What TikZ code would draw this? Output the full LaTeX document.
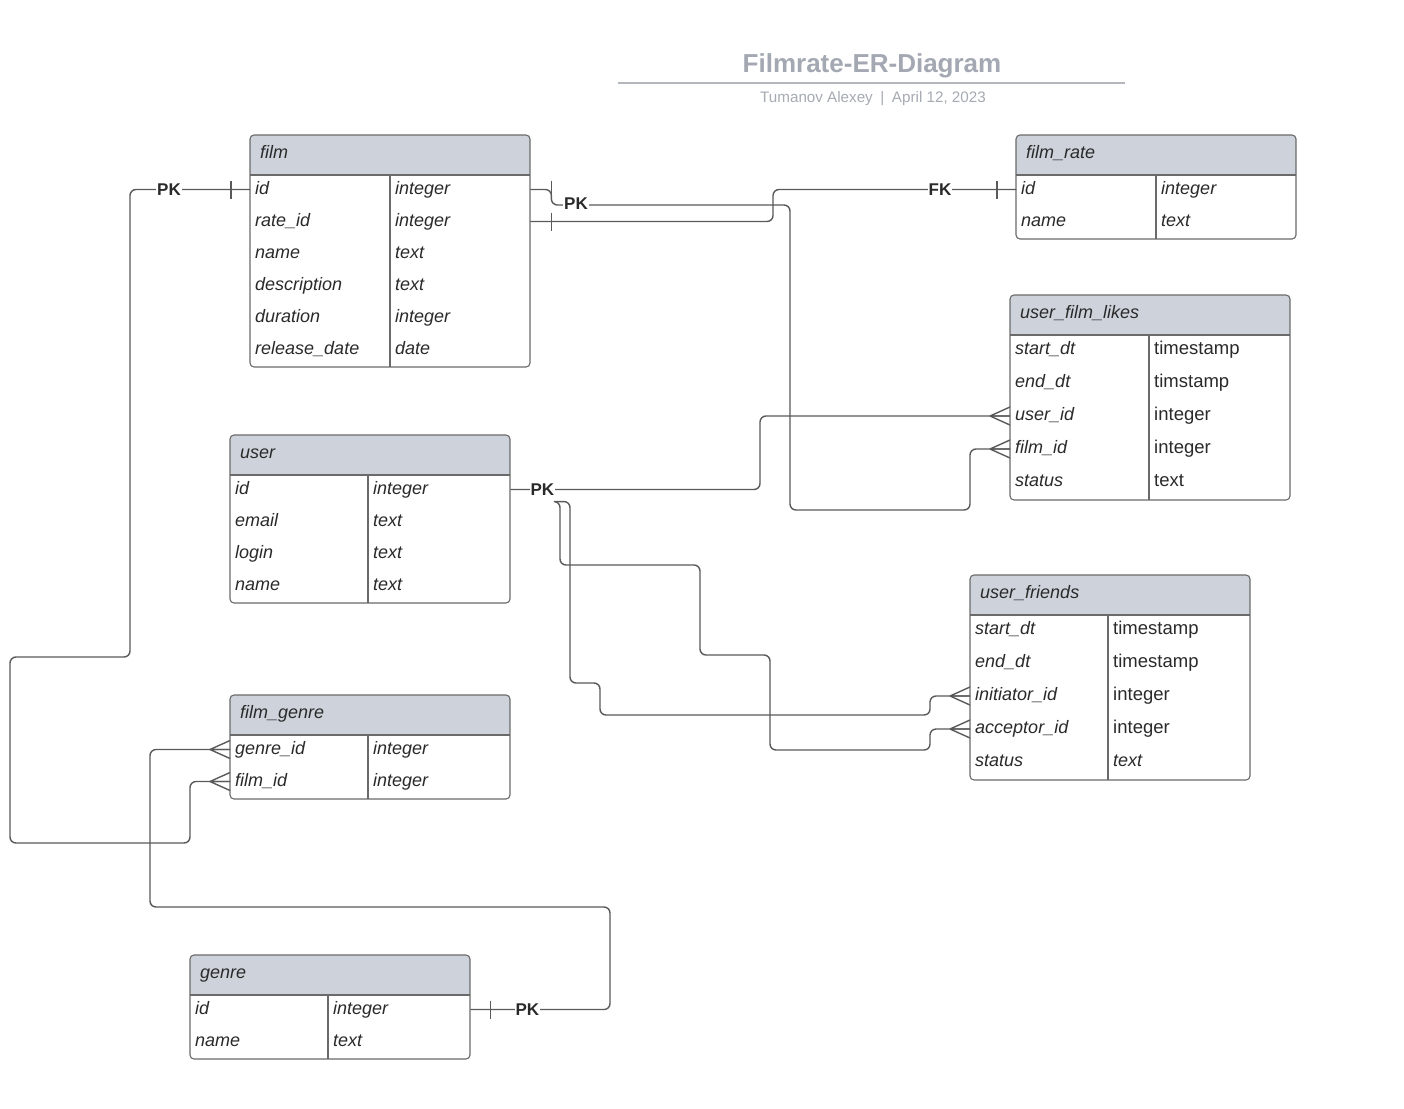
\documentclass[tikz,border=0pt]{standalone}
\usepackage{fontspec}
\setmainfont{Liberation Sans}
\usetikzlibrary{calc}
\definecolor{hdrgray}{HTML}{CED3DB}
\definecolor{linegray}{HTML}{5A5A5A}
\definecolor{boxline}{HTML}{6A6A6A}
\definecolor{titlegray}{HTML}{A3A8B2}
\definecolor{subgray}{HTML}{A6AAB2}
\definecolor{ruleline}{HTML}{B4B8BE}
\definecolor{txt}{HTML}{2A2A2A}
\tikzset{
  conn/.style={draw=linegray, line width=1.4pt, rounded corners=6pt},
  fld/.style={anchor=west, inner sep=0pt, text height=13pt, text depth=4pt, text=txt, font=\fontsize{18}{20}\selectfont},
  it/.style={font=\fontsize{18}{20}\selectfont\itshape},
  up/.style={font=\fontsize{18.5}{20}\selectfont},
  keylbl/.style={fill=white, inner sep=1pt, text=txt, font=\fontsize{17}{20}\selectfont\bfseries},
  crow/.pic={\draw[linegray, line width=1.4pt] (-20,0) -- (0,-9) (-20,0) -- (0,0) (-20,0) -- (0,9);},
  onebar/.pic={\draw[linegray, line width=1.4pt] (0,-9) -- (0,9);},
}
% #1 name, #2 left, #3 top, #4 divider offset, #5 rows, #6 row height, #7 title, #8 rows
\newcommand\ertable[8]{%
  \pgfmathsetmacro\tbodyh{#5*#6}%
  \pgfmathsetmacro\tbot{#3+40+#5*#6}%
  \begin{scope}
    \clip[rounded corners=4pt] (#2,#3) rectangle (#2+280,\tbot);
    \fill[hdrgray] (#2,#3) rectangle (#2+280,#3+40);
  \end{scope}
  \draw[boxline, line width=1.1pt, rounded corners=4pt] (#2,#3) rectangle (#2+280,\tbot);
  \draw[boxline, line width=1.1pt] (#2,#3+40) -- (#2+280,#3+40) (#2+#4,#3+40) -- (#2+#4,\tbot);
  \node[fld, it] (#1-h) at (#2+10,#3+19) {#7};
  \node[minimum width=280pt, minimum height=\tbodyh pt, inner sep=0pt, anchor=north west] (#1) at (#2,#3+40) {};
  \foreach \f/\t/\s [count=\i] in {#8}{%
    \node[fld, it] (#1-\i) at (#2+5,#3+40+\i*#6-#6/2-1.5) {\f};
    \node[fld, \s] (#1-t\i) at (#2+#4+5,#3+40+\i*#6-#6/2-1.5) {\t};
  }%
}
\begin{document}
\begin{tikzpicture}[x=1pt,y=-1pt]
\fill[white] (0,0) rectangle (1404,1108);
\useasboundingbox (0,0) rectangle (1404,1108);

% title
\node[font=\fontsize{26}{30}\selectfont\bfseries, text=titlegray] (title) at (872,66) {Filmrate-ER-Diagram};
\draw[ruleline, line width=1.6pt] (618,83) -- (1125,83);
\node[font=\fontsize{15.2}{17}\selectfont, text=subgray] (subtitle) at (873,99) {Tumanov Alexey\enspace|\enspace April 12, 2023};

% tables
\ertable{film}{250}{135}{140}{6}{32}{film}{id/integer/it, rate\_id/integer/it, name/text/it, description/text/it, duration/integer/it, release\_date/date/it}
\ertable{frate}{1016}{135}{140}{2}{32}{film\_rate}{id/integer/it, name/text/it}
\ertable{ufl}{1010}{295}{139}{5}{33}{user\_film\_likes}{start\_dt/timestamp/up, end\_dt/timstamp/up, user\_id/integer/up, film\_id/integer/up, status/text/up}
\ertable{usr}{230}{435}{138}{4}{32}{user}{id/integer/it, email/text/it, login/text/it, name/text/it}
\ertable{ufr}{970}{575}{138}{5}{33}{user\_friends}{start\_dt/timestamp/up, end\_dt/timestamp/up, initiator\_id/integer/up, acceptor\_id/integer/up, status/text/it}
\ertable{fg}{230}{695}{138}{2}{32}{film\_genre}{genre\_id/integer/it, film\_id/integer/it}
\ertable{gnr}{190}{955}{138}{2}{32}{genre}{id/integer/it, name/text/it}

% connectors
% film.id -> film_genre.film_id
\draw[conn] (film.west|-film-1) -| (130,657) -| (10,843) -| ($(fg.west|-fg-2)+(-40,0)$) -- (fg.west|-fg-2);
% film.id -> user_film_likes.film_id
\draw[conn] (film.east|-film-1) -- ($(film.east|-film-1)+(21,0)$) |- (790,205) |- (970,510) |- (ufl.west|-ufl-4);
% film.rate_id -> film_rate.id
\draw[conn] (film.east|-film-2) -| ($(frate.west|-frate-1)+(-243,0)$) -- (frate.west|-frate-1);
% user.id -> user_film_likes.user_id
\draw[conn] (usr.east|-usr-1) -| ($(ufl.west|-ufl-3)+(-250,0)$) -- (ufl.west|-ufl-3);
% genre.id -> film_genre.genre_id
\draw[conn] (gnr.east|-gnr-1) -| (610,907) -| ($(fg.west|-fg-1)+(-80,0)$) -- (fg.west|-fg-1);

% key labels
\node[keylbl] (pkfilmw) at ($(film.west|-film-1)+(-81,0)$) {PK};
\node[keylbl] (pkfilme) at (576,204) {PK};
\node[keylbl] (fkrate) at ($(frate.west|-frate-1)+(-76,0)$) {FK};
\node[keylbl] (usrpk) at ($(usr.east|-usr-1)+(32,0)$) {PK};
\node[keylbl] (gnrpk) at ($(gnr.east|-gnr-1)+(57,0)$) {PK};

% user.id -> user_friends
\draw[conn] ($(usrpk.south east)+(0,5)$) -| (560,565) -| (700,655) -| (770,750) -| ($(ufr.west|-ufr-4)+(-40,0)$) -- (ufr.west|-ufr-4);
\draw[conn] ($(usrpk.south east)+(0,5)$) -| (570,683) -| (600,715) -| ($(ufr.west|-ufr-3)+(-40,0)$) -- (ufr.west|-ufr-3);

% one bars
\pic at ($(film.west|-film-1)+(-19,0)$) {onebar};
\pic at ($(film.east|-film-1)+(21,0)$) {onebar};
\pic at ($(film.east|-film-2)+(21,0)$) {onebar};
\pic at ($(frate.west|-frate-1)+(-19,0)$) {onebar};
\pic at ($(gnr.east|-gnr-1)+(20,0)$) {onebar};

% crow's feet
\pic at (fg.west|-fg-1) {crow};
\pic at (fg.west|-fg-2) {crow};
\pic at (ufl.west|-ufl-3) {crow};
\pic at (ufl.west|-ufl-4) {crow};
\pic at (ufr.west|-ufr-3) {crow};
\pic at (ufr.west|-ufr-4) {crow};
\end{tikzpicture}
\end{document}
